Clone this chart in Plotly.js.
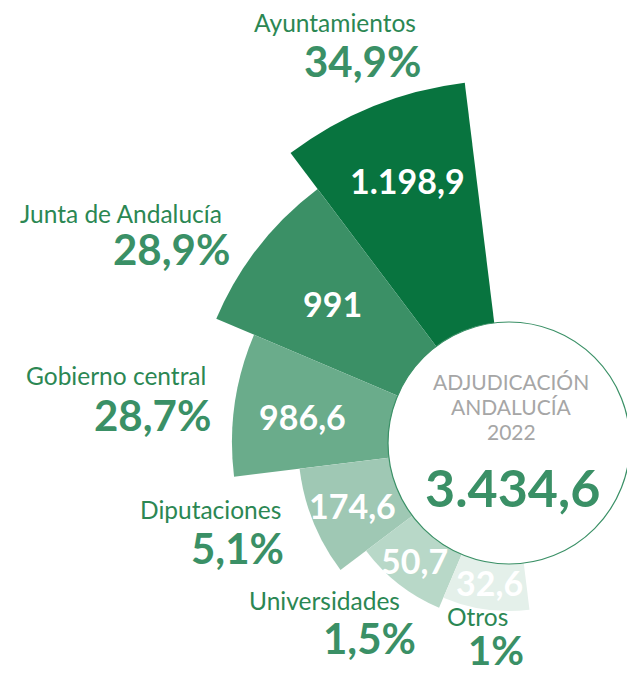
<!DOCTYPE html>
<html>
<head>
<meta charset="utf-8">
<script src="https://cdn.plot.ly/plotly-3.0.1.min.js"></script>
<style>
  html, body { margin: 0; padding: 0; background: #fff; }
  #frame { width: 627px; height: 675px; overflow: hidden; position: relative; }
  #chart { width: 900px; height: 830px; }
</style>
</head>
<body>
<div id="frame"><div id="chart"></div></div>
<script>
const categorias = ['Ayuntamientos', 'Junta de Andalucía', 'Gobierno central', 'Diputaciones', 'Universidades', 'Otros'];
const importes = [1198.9, 991, 986.6, 174.6, 50.7, 32.6];   // millones de euros
const porcentajes = [34.9, 28.9, 28.7, 5.1, 1.5, 1];
const alcance = [363, 318, 277, 211, 179, 168];             // largo de cada sector
const total = 3434.6;
const tituloCentro = ['ADJUDICACIÓN', 'ANDALUCÍA', '2022'];

const colores = ['#08743f', '#3b9066', '#6aac8b', '#9fc8b4', '#b8d8c8', '#e4f0ea'];
const verde = '#3a9066';
const verdeTexto = '#2b8753';
const gris = '#a6a6a6';
const FONT = 'Lato, "Open Sans", sans-serif';

// the plot div is bigger than the window so the fan can run past the edges
const W = 900, H = 830;
const CX = 509, CY = 443, R = 380, HOLE = 121;
const px = x => x / W;
const py = y => 1 - y / H;

function fmt(v) {
  const [i, d] = String(v).split('.');
  return i.replace(/\B(?=(\d{3})+(?!\d))/g, '.') + (d ? ',' + d : '');
}

// label centres in window pixels
const posNombre = [[335, 22], [121, 213], [116, 375], [210, 509], [324, 600], [477, 616]];
const posPct = [[362, 61], [171, 249], [152, 415], [238, 548], [369, 638], [496, 650]];
const posValor = [[407, 180], [332, 303], [302, 417], [352, 505], [414, 560], [490, 582]];

const annotations = [];
categorias.forEach((c, i) => {
  annotations.push({
    text: c, xref: 'paper', yref: 'paper',
    x: px(posNombre[i][0]), y: py(posNombre[i][1]),
    xanchor: 'center', yanchor: 'middle', showarrow: false,
    font: { family: FONT, size: 24.5, color: verdeTexto }
  });
  annotations.push({
    text: '<b>' + fmt(porcentajes[i]) + '%</b>', xref: 'paper', yref: 'paper',
    x: px(posPct[i][0]), y: py(posPct[i][1]),
    xanchor: 'center', yanchor: 'middle', showarrow: false,
    font: { family: FONT, size: i === 5 ? 40 : 42, color: verde }
  });
  annotations.push({
    text: '<b>' + fmt(importes[i]) + '</b>', xref: 'paper', yref: 'paper',
    x: px(posValor[i][0]), y: py(posValor[i][1]),
    xanchor: 'center', yanchor: 'middle', showarrow: false,
    font: { family: FONT, size: 34, color: '#ffffff' }
  });
});

[381, 406, 431].forEach((y, i) => {
  annotations.push({
    text: tituloCentro[i], xref: 'paper', yref: 'paper',
    x: px(511), y: py(y), xanchor: 'center', yanchor: 'middle', showarrow: false,
    font: { family: FONT, size: 21, color: gris }
  });
});
annotations.push({
  text: '<b>' + fmt(total) + '</b>', xref: 'paper', yref: 'paper',
  x: px(512), y: py(487), xanchor: 'center', yanchor: 'middle', showarrow: false,
  font: { family: FONT, size: 52, color: verde }
});

const traces = [{
  type: 'barpolar',
  theta: categorias,
  r: alcance,
  marker: { color: colores, line: { width: 0 } },
  hoverinfo: 'skip'
}];

const layout = {
  width: W,
  height: H,
  margin: { l: 0, r: 0, t: 0, b: 0 },
  paper_bgcolor: '#ffffff',
  showlegend: false,
  polar: {
    domain: { x: [px(CX - R), px(CX + R)], y: [py(CY + R), py(CY - R)] },
    bgcolor: 'rgba(0,0,0,0)',
    bargap: 0,
    radialaxis: { range: [0, R], visible: false },
    angularaxis: {
      type: 'category',
      categoryarray: categorias,
      period: 12,
      rotation: 112,
      direction: 'counterclockwise',
      visible: false
    }
  },
  shapes: [{
    type: 'circle', xref: 'paper', yref: 'paper', layer: 'above',
    x0: px(CX - HOLE), x1: px(CX + HOLE),
    y0: py(CY + HOLE), y1: py(CY - HOLE),
    fillcolor: '#ffffff',
    line: { color: verde, width: 1.2 }
  }],
  annotations: annotations
};

Plotly.newPlot('chart', traces, layout, { staticPlot: true, displayModeBar: false });
</script>
</body>
</html>
